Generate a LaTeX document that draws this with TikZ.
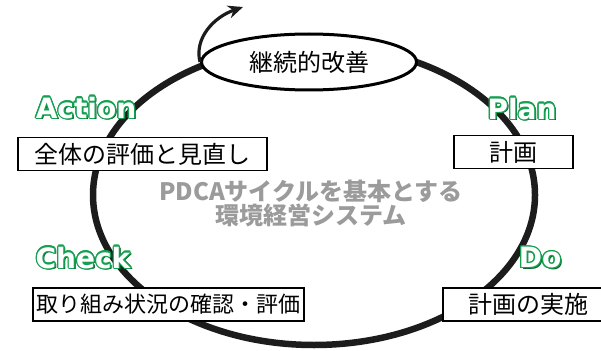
\documentclass[tikz,border=0pt]{standalone}
\usepackage{fontspec}
\setmainfont{Noto Sans CJK JP}
\newfontfamily\lblfont{DejaVu Sans}
\usetikzlibrary{arrows.meta,shapes.geometric}
\definecolor{lgreen}{RGB}{20,160,80}
\definecolor{dgreen}{RGB}{10,100,45}
\definecolor{midgray}{RGB}{155,155,155}
\definecolor{loopblack}{RGB}{28,28,28}
\newcommand\lblcopy[4]{\rlap{\hspace*{#1}\raisebox{#2}{\color{#3}#4}}}
\newcommand\outlbl[1]{%
\lblcopy{1.9pt}{-1.9pt}{dgreen}{#1}%
\lblcopy{1.3pt}{-1.3pt}{dgreen}{#1}%
\lblcopy{1.2pt}{0pt}{lgreen}{#1}%
\lblcopy{-1.2pt}{0pt}{lgreen}{#1}%
\lblcopy{0pt}{1.2pt}{lgreen}{#1}%
\lblcopy{0pt}{-1.2pt}{lgreen}{#1}%
\lblcopy{0.85pt}{0.85pt}{lgreen}{#1}%
\lblcopy{-0.85pt}{0.85pt}{lgreen}{#1}%
\lblcopy{0.85pt}{-0.85pt}{lgreen}{#1}%
\lblcopy{-0.85pt}{-0.85pt}{lgreen}{#1}%
\lblcopy{1.1pt}{0.45pt}{lgreen}{#1}%
\lblcopy{-1.1pt}{0.45pt}{lgreen}{#1}%
\lblcopy{1.1pt}{-0.45pt}{lgreen}{#1}%
\lblcopy{-1.1pt}{-0.45pt}{lgreen}{#1}%
\lblcopy{0.45pt}{1.1pt}{lgreen}{#1}%
\lblcopy{-0.45pt}{1.1pt}{lgreen}{#1}%
\lblcopy{0.45pt}{-1.1pt}{lgreen}{#1}%
\lblcopy{-0.45pt}{-1.1pt}{lgreen}{#1}%
{\color{white}#1}}
\tikzset{
  bigloop/.style={draw=loopblack,line width=6.5pt},
  kaizenbox/.style={ellipse,draw=black,line width=3pt,fill=white,inner sep=0pt,
    minimum width=215pt,minimum height=56pt,font=\fontsize{24}{26}\selectfont},
  stagebox/.style={rectangle,draw=black,line width=1.6pt,fill=white,inner sep=0pt,
    minimum height=33pt,font=\fontsize{24}{26}\selectfont},
  stagelbl/.style={inner sep=0pt,font=\lblfont\bfseries\fontsize{28}{30}\selectfont},
  centertext/.style={align=center,text=midgray,inner sep=0pt,
    font=\bfseries\fontsize{24}{24}\selectfont},
  curlarrow/.style={draw=loopblack,line width=3.2pt,-{Stealth[length=15pt,width=13pt]}}
}
\begin{document}
\begin{tikzpicture}[x=1pt,y=-1pt]
\useasboundingbox (0,0) rectangle (601,350);
% big loop
\draw[bigloop] (314,195) ellipse [x radius=221, y radius=150];
% center text
\node[centertext] (sys) at (311,203) {PDCAサイクルを基本とする\\環境経営システム};
% small ellipse
\node[kaizenbox] (kaizen) at (309,62) {継続的改善};
\coordinate (tip) at (243,7);
\draw[curlarrow] (kaizen.west) .. controls (194,38) and (214,17) .. (tip);
% stage boxes
\node[stagebox,minimum width=249.5pt] (act) at (142.5,154) {全体の評価と見直し};
\node[stagebox,minimum width=119.5pt] (plan) at (513.5,152) {計画};
\node[stagebox,minimum width=271.5pt,font=\fontsize{22}{26}\selectfont] (chk) at (168.5,304.5) {取り組み状況の確認・評価};
\node[stagebox,minimum width=170pt] (do) at (528,304.5) {計画の実施};
% stage labels
\node[stagelbl] (lact) at (86,108) {\outlbl{Action}};
\node[stagelbl] (lplan) at (522,109) {\outlbl{Plan}};
\node[stagelbl] (lchk) at (83,258) {\outlbl{Check}};
\node[stagelbl] (ldo) at (540,258) {\outlbl{Do}};
\end{tikzpicture}
\end{document}
